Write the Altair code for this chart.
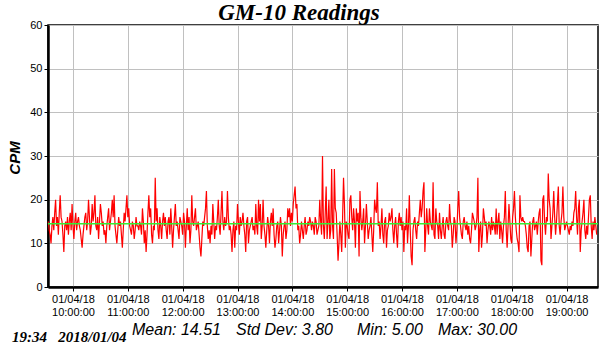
import altair as alt
import pandas as pd

TITLE = "GM-10 Readings"
Y_TITLE = "CPM"
STAMP = "19:34\u00a0\u00a0\u00a02018/01/04"
STATS = ["Mean: 14.51", "Std Dev: 3.80", "Min: 5.00", "Max: 30.00"]
MEAN = 14.51
START = "2018-01-04 09:33:00"
HOURS = list(range(10, 20))
Y_TICKS = list(range(0, 61, 5))

seg1 = [15,13,12,10,14,16,13,17,20,14,16,12,17,21,16,15,12,8,14,15,13,16,12,15,17,13,19,14,11,15,17,13,15,16,14,13,11,9,12,14,16,17,13,15,20,16,12,14,19,15,17,21,14,13,16,11,15,19,17,14,15,12,13,10,14,16,18,13,15,17,20,16,21,14,12,10,13,16,14,15,12,9,13,17,15,18,21,16,18,14,13,12,15,14,11,13,16,14]
seg2 = [14,13,15,14,12,18,15,10,13,8,12,17,21,16,18,12,10,14,13,25,15,18,13,11,16,14,11,15,17,14,16,13,11,15,16,12,18,14,9,13,16,19,14,15,13,11,16,15,14,12,17,15,9,14,18,13,16,10,13,21,15,14,16,18,13,14,15,12,9,7,11,15,14,16,18,22,14,11,13,10,14,12,19,15,11,14,13,16,20,14,12,17,22,15,13,16,14,15]
seg3 = [22,16,13,14,12,8,13,15,9,14,13,19,15,12,16,14,15,17,14,12,8,15,16,10,13,14,15,16,13,14,12,19,14,12,20,15,19,11,14,20,14,12,9,13,16,14,10,15,17,14,18,12,9,11,14,15,10,13,16,14,7,12,14,15,11,13,18,16,18,14,17,15,19,21,23,18,19,13,14,10,12,15,13,11,14,16,12,13,15,14,16,15,13,15,14,12,16,15]
seg4 = [12,13,14,20,15,12,30,14,11,17,23,11,15,20,11,13,27,14,11,27,18,17,12,6,10,15,12,8,16,25,19,9,15,14,12,11,20,21,16,13,18,15,9,18,15,17,7,22,16,13,15,18,10,14,19,15,11,13,14,16,12,8,13,20,18,17,24,14,15,11,14,18,12,10,15,16,9,13,14,17,15,16,18,13,10,14,16,12,9,15,17,14,16,13,15,8,14,13]
seg5 = [18,10,14,21,13,7,5,13,15,16,13,11,15,14,17,20,16,18,22,24,8,13,18,14,12,18,15,14,13,24,12,11,18,15,14,11,17,13,11,14,16,12,11,15,16,14,13,19,15,14,9,12,16,15,10,13,18,22,16,14,12,11,15,16,14,13,15,12,14,11,10,13,17,16,15,13,14,16,25,8,13,15,9,12,18,16,14,15,10,13,15,14,12,16,13,15,14,12]
seg6 = [18,12,15,17,11,15,13,10,14,16,22,13,9,14,19,15,11,10,16,18,22,16,13,11,10,8,21,16,15,16,15,15,14,12,9,8,14,15,7,11,15,16,13,14,15,12,15,17,18,6,5,20,21,15,12,16,15,26,20,18,11,14,17,22,16,12,15,19,23,14,12,15,17,23,16,13,14,15,14,13,12,14,13,15,14,17,18,22,16,12,18,20,8,13,15,17,20,13,11,14,12,16,20,21,14,11,15,13,16,14,12]

cpm = seg1 + seg2 + seg3 + seg4 + seg5 + seg6
times = pd.date_range(START, periods=len(cpm), freq="min")
df = pd.DataFrame({"t": times, "cpm": cpm})
mean_df = pd.DataFrame({"mean": [MEAN]})

W, H = 550, 262

x_scale = alt.Scale(domain=[alt.DateTime(year=2018, month=1, date=4, hours=9, minutes=32, seconds=40),
                            alt.DateTime(year=2018, month=1, date=4, hours=19, minutes=34, seconds=25)])
y_scale = alt.Scale(domain=[0, 60], nice=False)

x_axis = alt.Axis(
    values=[alt.DateTime(year=2018, month=1, date=4, hours=h) for h in HOURS],
    labelExpr="[timeFormat(datum.value, '%m/%d/%y'), timeFormat(datum.value, '%H:%M:%S')]",
    title=None, labelFont="Liberation Sans", labelFontSize=11, labelColor="black",
    labelLineHeight=13, labelPadding=2, tickSize=4, tickColor="black",
    domainColor="black", domainWidth=2.5, gridColor="#c0c0c0", gridWidth=1, labelFlush=False,
)
y_axis = alt.Axis(
    values=Y_TICKS, title=None, labelFont="Liberation Sans", labelFontSize=11, labelColor="black",
    labelPadding=2, tickSize=4, tickColor="black", domainColor="black", domainWidth=2.5,
    gridColor="#c0c0c0", gridWidth=1,
)

line = alt.Chart(df).mark_line(color="#ff0000", strokeWidth=1.2).encode(
    x=alt.X("t:T", scale=x_scale, axis=x_axis),
    y=alt.Y("cpm:Q", scale=y_scale, axis=y_axis),
)
mean_rule = alt.Chart(mean_df).mark_rule(color="#33ee33", strokeWidth=1.5).encode(
    y=alt.Y("mean:Q", scale=y_scale),
)

title_txt = alt.Chart(pd.DataFrame({"s": [TITLE]})).mark_text(
    font="Liberation Serif", fontSize=23, fontStyle="italic", fontWeight="bold",
    align="center", baseline="alphabetic", color="black",
).encode(x=alt.value(251), y=alt.value(-5), text="s:N")

ytitle_txt = alt.Chart(pd.DataFrame({"s": [Y_TITLE]})).mark_text(
    font="Liberation Sans", fontSize=15, fontStyle="italic", fontWeight="bold",
    align="center", baseline="middle", angle=270, color="black",
).encode(x=alt.value(-33), y=alt.value(133), text="s:N")

stamp_txt = alt.Chart(pd.DataFrame({"s": [STAMP]})).mark_text(
    font="Liberation Serif", fontSize=15, fontStyle="italic", fontWeight="bold",
    align="left", baseline="alphabetic", color="black",
).encode(x=alt.value(-36), y=alt.value(317), text="s:N")

stat_x = [84, 188, 309, 390]
stats_df = pd.DataFrame({"s": STATS, "px": stat_x})
stats_txt = alt.Chart(stats_df).mark_text(
    font="Liberation Sans", fontSize=16, fontStyle="italic",
    align="left", baseline="alphabetic", color="black",
).encode(x=alt.X("px:Q", scale=None), y=alt.value(310), text="s:N")

chart = alt.layer(line, mean_rule, title_txt, ytitle_txt, stamp_txt, stats_txt).properties(
    width=W, height=H,
    autosize=alt.AutoSizeParams(type="none"),
    padding={"left": 48, "top": 25, "right": 4, "bottom": 68},
    background="white",
).configure_view(stroke="black", strokeWidth=1.5)

chart.save("out.html", embed_options={"renderer": "svg", "actions": False})
